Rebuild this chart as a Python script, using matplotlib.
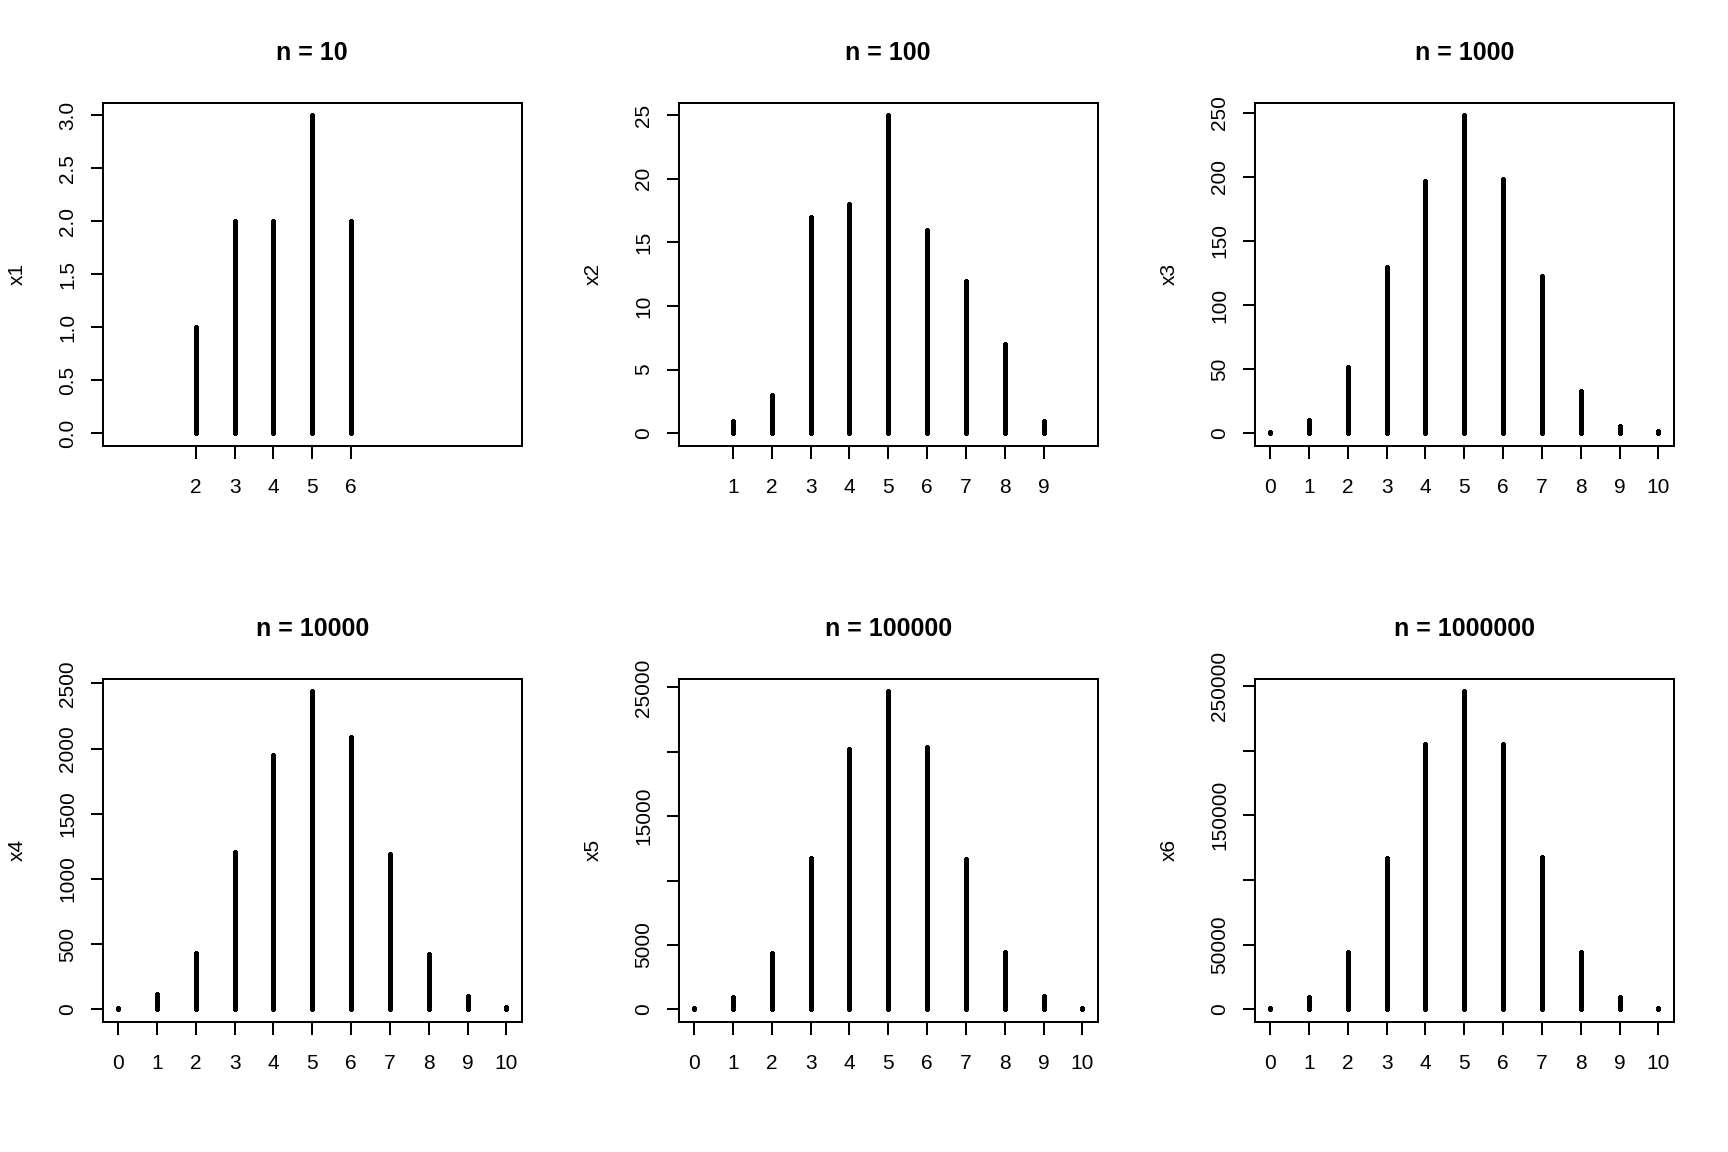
import matplotlib
matplotlib.use("Agg")
import matplotlib.pyplot as plt

plt.rcParams['font.family'] = ['Liberation Sans', 'DejaVu Sans']

# ---- data ----
titles = ["n = 10", "n = 100", "n = 1000", "n = 10000", "n = 100000", "n = 1000000"]
ylabels = ["x1", "x2", "x3", "x4", "x5", "x6"]

k1 = [2, 3, 4, 5, 6]
c1 = [1, 2, 2, 3, 2]

k2 = [1, 2, 3, 4, 5, 6, 7, 8, 9]
c2 = [1, 3, 17, 18, 25, 16, 12, 7, 1]

k3 = [0, 1, 2, 3, 4, 5, 6, 7, 8, 9, 10]
c3 = [1, 10, 52, 130, 197, 248, 198, 123, 33, 6, 2]

k4 = [0, 1, 2, 3, 4, 5, 6, 7, 8, 9, 10]
c4 = [10, 115, 435, 1210, 1950, 2440, 2090, 1190, 425, 105, 15]

k5 = [0, 1, 2, 3, 4, 5, 6, 7, 8, 9, 10]
c5 = [100, 990, 4400, 11750, 20250, 24700, 20400, 11700, 4450, 1020, 100]

k6 = [0, 1, 2, 3, 4, 5, 6, 7, 8, 9, 10]
c6 = [980, 9800, 44000, 117000, 205000, 246000, 205000, 117500, 44000, 9800, 980]

yt1 = [0.0, 0.5, 1.0, 1.5, 2.0, 2.5, 3.0]
yl1 = ["0.0", "0.5", "1.0", "1.5", "2.0", "2.5", "3.0"]
yt2 = [0, 5, 10, 15, 20, 25]
yl2 = ["0", "5", "10", "15", "20", "25"]
yt3 = [0, 50, 100, 150, 200, 250]
yl3 = ["0", "50", "100", "150", "200", "250"]
yt4 = [0, 500, 1000, 1500, 2000, 2500]
yl4 = ["0", "500", "1000", "1500", "2000", "2500"]
yt5 = [0, 5000, 10000, 15000, 20000, 25000]
yl5 = ["0", "5000", "", "15000", "", "25000"]
yt6 = [0, 50000, 100000, 150000, 200000, 250000]
yl6 = ["0", "50000", "", "150000", "", "250000"]

ks = [k1, k2, k3, k4, k5, k6]
cs = [c1, c2, c3, c4, c5, c6]
yts = [yt1, yt2, yt3, yt4, yt5, yt6]
yls = [yl1, yl2, yl3, yl4, yl5, yl6]

# ---- layout (R-like mfrow=c(2,3), default margins) ----
W, H, DPI = 1728, 1152, 100
fig = plt.figure(figsize=(W / DPI, H / DPI), dpi=DPI)
fig.patch.set_facecolor("white")

cell_w, cell_h = W / 3, H / 2
mar_l, mar_r, mar_t, mar_b = 102.5, 54.0, 102.5, 130.0

box_lw = 1.45
tick_fs = 15
tick_len = 12.5 * 72 / DPI
for i in range(6):
    r, c = divmod(i, 3)
    left = c * cell_w + mar_l
    width = cell_w - mar_l - mar_r
    top = r * cell_h + mar_t
    height = cell_h - mar_t - mar_b
    ax = fig.add_axes([left / W, 1 - (top + height) / H, width / W, height / H])

    ax.vlines(ks[i], 0, cs[i], colors="black", linewidth=2.5,
              capstyle="round", antialiased=False)

    m = max(cs[i])
    ax.set_xlim(-0.4, 10.4)
    ax.set_ylim(-0.04 * m, 1.04 * m)

    ax.set_xticks(ks[i])
    ax.set_xticklabels([str(k) for k in ks[i]], fontsize=tick_fs)
    ax.set_yticks(yts[i])
    ax.set_yticklabels(yls[i], fontsize=tick_fs)
    for lab in ax.get_yticklabels():
        lab.set_rotation(90)
        lab.set_va("center")
        lab.set_ha("right")

    ax.tick_params(axis="x", direction="out", length=tick_len, width=box_lw, pad=14)
    ax.tick_params(axis="y", direction="out", length=tick_len, width=box_lw, pad=9)
    for s in ax.spines.values():
        s.set_linewidth(box_lw)
        s.set_color("black")

    # title
    fig.text((left + width / 2) / W, 1 - (top - 50) / H, titles[i],
             ha="center", va="center", fontsize=18, fontweight="bold")
    # y label
    fig.text((left - 85) / W, 1 - (top + height / 2) / H, ylabels[i],
             ha="center", va="center", rotation=90, fontsize=15)

fig.savefig("out.png", dpi=DPI, facecolor="white")
